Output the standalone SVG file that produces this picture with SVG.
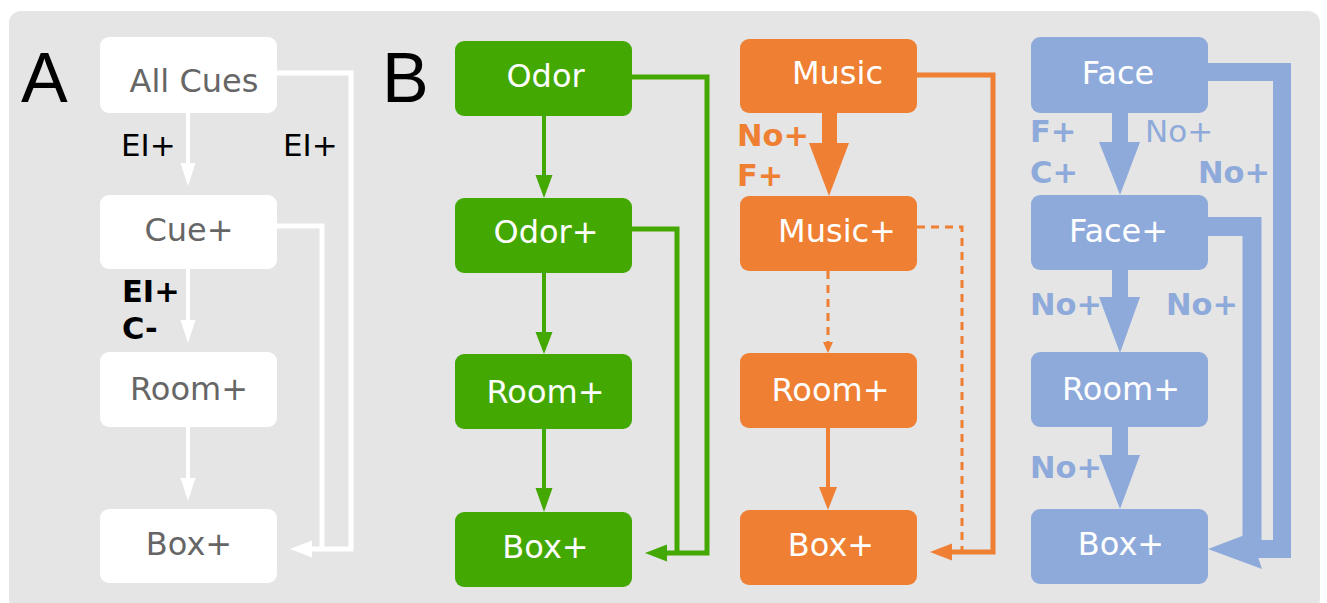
<svg xmlns="http://www.w3.org/2000/svg" width="1327" height="603" viewBox="0 0 1327 603">
<style>
.bg{fill:#e5e5e5}
.t{font-family:"DejaVu Sans",Verdana,sans-serif;font-size:32px;text-anchor:middle}
.lab{font-family:"DejaVu Sans",Verdana,sans-serif;font-size:31px}
.b{font-weight:bold;font-size:30.5px}
.pl{font-family:"Liberation Sans",Arial,sans-serif;font-size:70px;fill:#000}
.nA rect{fill:#fff}.nA text{fill:#666}
.nG rect{fill:#44a803}.nG text{fill:#fff}
.nO rect{fill:#ee7f33}.nO text{fill:#fff}
.nB rect{fill:#8eaadb}.nB text{fill:#fff}
.ln{fill:none;stroke-linejoin:miter;stroke-linecap:butt}
.w{stroke:#fff}.g{stroke:#44a803}.o{stroke:#ee7f33}.bl{stroke:#8eaadb}
.hw{fill:#fff}.hg{fill:#44a803}.ho{fill:#ee7f33}.hb{fill:#8eaadb}
</style>
<rect class="bg" x="9" y="11" width="1311" height="600" rx="12"/>
<text class="pl" x="21" y="102">A</text>
<text class="pl" x="382" y="102">B</text>

<g id="connectors">
  <!-- Panel A -->
  <line class="ln w" x1="188" y1="113" x2="188" y2="165" stroke-width="4"/>
  <polygon class="hw" points="180.5,163 195.5,163 188,186"/>
  <line class="ln w" x1="188" y1="269" x2="188" y2="322" stroke-width="4"/>
  <polygon class="hw" points="180.5,320 195.5,320 188,343"/>
  <line class="ln w" x1="188" y1="427" x2="188" y2="480" stroke-width="4"/>
  <polygon class="hw" points="180.5,478 195.5,478 188,501"/>
  <polyline class="ln w" points="277,73 351,73 351,549 308,549" stroke-width="5"/>
  <polyline class="ln w" points="277,226 322,226 322,549" stroke-width="5"/>
  <polygon class="hw" points="290,549 312,540.5 312,557.5"/>

  <!-- Green -->
  <line class="ln g" x1="544" y1="116" x2="544" y2="177" stroke-width="4"/>
  <polygon class="hg" points="535.5,175 552.5,175 544,198"/>
  <line class="ln g" x1="544" y1="273" x2="544" y2="334" stroke-width="4"/>
  <polygon class="hg" points="535.5,332 552.5,332 544,354"/>
  <line class="ln g" x1="544" y1="429" x2="544" y2="490" stroke-width="4"/>
  <polygon class="hg" points="535.5,488 552.5,488 544,512"/>
  <polyline class="ln g" points="632,77 707,77 707,553 663,553" stroke-width="5"/>
  <polyline class="ln g" points="632,229 677,229 677,553" stroke-width="5"/>
  <polygon class="hg" points="645,553 667,544.5 667,561.5"/>

  <!-- Orange -->
  <rect class="ho" x="822" y="113" width="15" height="31"/>
  <polygon class="ho" points="809,143 849,143 829,196"/>
  <line class="ln o" x1="828" y1="271" x2="828" y2="344" stroke-width="3" stroke-dasharray="8,6"/>
  <polygon class="ho" points="823,342 833,342 828,353"/>
  <line class="ln o" x1="828" y1="428" x2="828" y2="489" stroke-width="4"/>
  <polygon class="ho" points="819,487 837,487 828,510"/>
  <polyline class="ln o" points="917,75 993,75 993,552 948,552" stroke-width="5"/>
  <polyline class="ln o" points="917,227 962,227 962,552" stroke-width="3" stroke-dasharray="8,6"/>
  <polygon class="ho" points="930,552 952,543.5 952,560.5"/>

  <!-- Blue -->
  <rect class="hb" x="1112" y="113" width="16" height="31"/>
  <polygon class="hb" points="1099,142 1140,142 1120,195"/>
  <rect class="hb" x="1112" y="270" width="16" height="29"/>
  <polygon class="hb" points="1099,297 1140,297 1120,353"/>
  <rect class="hb" x="1112" y="427" width="16" height="30"/>
  <polygon class="hb" points="1099,455 1140,455 1120,509"/>
  <polyline class="ln bl" points="1208,72 1282,72 1282,549 1250,549" stroke-width="18"/>
  <polyline class="ln bl" points="1208,226.5 1252,226.5 1252,545" stroke-width="19"/>
  <polygon class="hb" points="1208,549 1250,533 1262,569"/>
</g>

<g id="labels">
  <text class="lab" x="121" y="156" fill="#000">EI+</text>
  <text class="lab" x="283" y="156" fill="#000">EI+</text>
  <text class="lab b" x="122" y="302" fill="#000">EI+</text>
  <text class="lab b" x="122" y="339" fill="#000">C-</text>
  <text class="lab b" x="737" y="146" fill="#ee7f33">No+</text>
  <text class="lab b" x="737" y="186" fill="#ee7f33">F+</text>
  <text class="lab b" x="1030" y="142" fill="#8eaadb">F+</text>
  <text class="lab b" x="1030" y="183" fill="#8eaadb">C+</text>
  <text class="lab" x="1145" y="142" fill="#8eaadb">No+</text>
  <text class="lab b" x="1198" y="183" fill="#8eaadb">No+</text>
  <text class="lab b" x="1030" y="315" fill="#8eaadb">No+</text>
  <text class="lab b" x="1166" y="315" fill="#8eaadb">No+</text>
  <text class="lab b" x="1030" y="478" fill="#8eaadb">No+</text>
</g>

<g id="A-allcues" class="nA"><rect x="100" y="37" width="177" height="76" rx="9"/><text class="t" x="194" y="92">All Cues</text></g>
<g id="A-cue" class="nA"><rect x="100" y="195" width="177" height="74" rx="9"/><text class="t" x="189" y="241">Cue+</text></g>
<g id="A-room" class="nA"><rect x="100" y="352" width="177" height="75" rx="9"/><text class="t" x="189" y="400">Room+</text></g>
<g id="A-box" class="nA"><rect x="100" y="509" width="177" height="74" rx="9"/><text class="t" x="189" y="555">Box+</text></g>

<g id="G-odor" class="nG"><rect x="455" y="41" width="177" height="75" rx="9"/><text class="t" x="545.5" y="87">Odor</text></g>
<g id="G-odorp" class="nG"><rect x="455" y="198" width="177" height="75" rx="9"/><text class="t" x="546" y="243">Odor+</text></g>
<g id="G-room" class="nG"><rect x="455" y="354" width="177" height="75" rx="9"/><text class="t" x="545.5" y="403">Room+</text></g>
<g id="G-box" class="nG"><rect x="455" y="512" width="177" height="75" rx="9"/><text class="t" x="545.5" y="558">Box+</text></g>

<g id="O-music" class="nO"><rect x="740" y="39" width="177" height="74" rx="9"/><text class="t" x="837.5" y="84">Music</text></g>
<g id="O-musicp" class="nO"><rect x="740" y="196" width="177" height="75" rx="9"/><text class="t" x="837" y="242">Music+</text></g>
<g id="O-room" class="nO"><rect x="740" y="353" width="177" height="75" rx="9"/><text class="t" x="830.5" y="401">Room+</text></g>
<g id="O-box" class="nO"><rect x="740" y="510" width="177" height="75" rx="9"/><text class="t" x="831" y="556">Box+</text></g>

<g id="B-face" class="nB"><rect x="1031" y="37" width="177" height="76" rx="9"/><text class="t" x="1118" y="84">Face</text></g>
<g id="B-facep" class="nB"><rect x="1031" y="195" width="177" height="75" rx="9"/><text class="t" x="1118.5" y="242">Face+</text></g>
<g id="B-room" class="nB"><rect x="1031" y="352" width="177" height="75" rx="9"/><text class="t" x="1121" y="400">Room+</text></g>
<g id="B-box" class="nB"><rect x="1031" y="509" width="177" height="75" rx="9"/><text class="t" x="1121" y="555">Box+</text></g>
</svg>
